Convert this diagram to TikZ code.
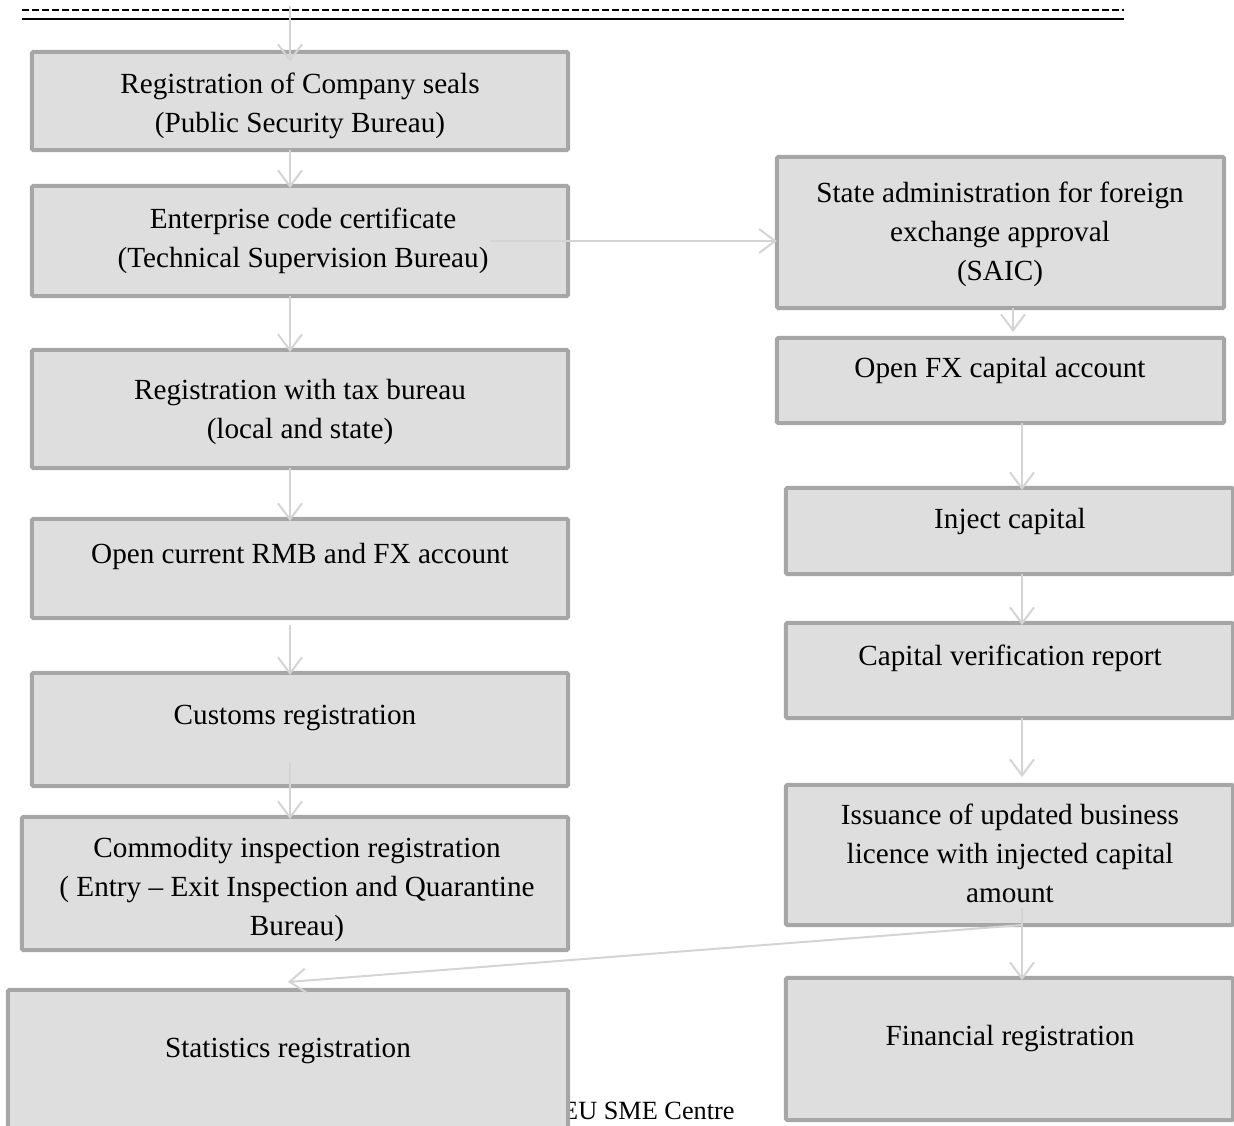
\documentclass[tikz,border=0pt]{standalone}
\usepackage{fontspec}
\setmainfont{Liberation Serif}
\usetikzlibrary{arrows.meta}
\definecolor{boxfill}{HTML}{DEDEDE}
\definecolor{boxline}{HTML}{A6A6A6}
\definecolor{arrowcol}{HTML}{D4D4D4}
\begin{document}
\begin{tikzpicture}[x=1pt,y=-1pt,
  stepbox/.style={draw=boxline,fill=boxfill,line width=4pt,rounded corners=1.5pt},
  label/.style={align=center,font=\fontsize{29.2}{39}\selectfont,inner sep=0pt,anchor=base},
  conn/.style={draw=arrowcol,line width=2pt,-{Straight Barb[length=16pt,width=24pt,line width=2pt]}}]
\useasboundingbox (0,0) rectangle (1234,1126);
% header lines
\draw[black,line width=2pt,dash pattern=on 7pt off 3pt] (22,10) -- (1124,10);
\draw[black,line width=2.5pt] (22,19) -- (1124,19);
% footer
\node[anchor=base west,font=\fontsize{26.3}{30}\selectfont,inner sep=0pt] (foot) at (562,1119) {EU SME Centre};
% boxes
\node[inner sep=0pt,minimum width=536pt,minimum height=98pt] (b1) at (300,101) {};
\node[inner sep=0pt,minimum width=536pt,minimum height=110pt] (b2) at (300,241) {};
\node[inner sep=0pt,minimum width=536pt,minimum height=118pt] (b3) at (300,409) {};
\node[inner sep=0pt,minimum width=536pt,minimum height=99pt] (b4) at (300,568.5) {};
\node[inner sep=0pt,minimum width=536pt,minimum height=113pt] (b5) at (300,729.5) {};
\node[inner sep=0pt,minimum width=546pt,minimum height=133pt] (b6) at (295,883.5) {};
\node[inner sep=0pt,minimum width=560pt,minimum height=140pt] (b7) at (288,1060) {};
\node[inner sep=0pt,minimum width=447pt,minimum height=151pt] (b8) at (1000.5,232.5) {};
\node[inner sep=0pt,minimum width=447pt,minimum height=85pt] (b9) at (1000.5,380.5) {};
\node[inner sep=0pt,minimum width=447pt,minimum height=86pt] (b10) at (1009.5,531) {};
\node[inner sep=0pt,minimum width=447pt,minimum height=95pt] (b11) at (1009.5,670.5) {};
\node[inner sep=0pt,minimum width=447pt,minimum height=140pt] (b12) at (1009.5,855) {};
\node[inner sep=0pt,minimum width=447pt,minimum height=142pt] (b13) at (1009.5,1049) {};
\foreach \b in {b1,b2,b3,b4,b5,b6,b7,b8,b9,b10,b11,b12,b13}{
  \path[stepbox] (\b.north west) rectangle (\b.south east);
}
% texts (anchor = baseline of last line)
\node[label] (t1) at (300,133) {Registration of Company seals\\(Public Security Bureau)};
\node[label] (t2) at (303,267) {Enterprise code certificate\\(Technical Supervision Bureau)};
\node[label] (t3) at (300,438) {Registration with tax bureau\\(local and state)};
\node[label] (t4) at (300,563) {Open current RMB and FX account};
\node[label] (t5) at (295,724) {Customs registration};
\node[label] (t6) at (297,935) {Commodity inspection registration\\( Entry -- Exit Inspection and Quarantine\\Bureau)};
\node[label] (t7) at (288,1057) {Statistics registration};
\node[label] (t8) at (1000,280) {State administration for foreign\\exchange approval\\(SAIC)};
\node[label] (t9) at (1000,377) {Open FX capital account};
\node[label] (t10) at (1010,528) {Inject capital};
\node[label] (t11) at (1010,665) {Capital verification report};
\node[label] (t12) at (1010,902) {Issuance of updated business\\licence with injected capital\\amount};
\node[label] (t13) at (1010,1045) {Financial registration};
% connectors
\coordinate (top) at (290,6);
\coordinate (topend) at (290,62);
\draw[conn] (top) -- (topend);
\draw[conn] (b1.south -| top) -- (290,188);
\draw[conn] (b2.south -| top) -- (290,352);
\draw[conn] (b3.south -| top) -- (290,521);
\draw[conn] (290,625) -- (290,675);
\draw[conn] (290,762) -- (290,819);
\draw[conn] (490,241) -- (b8.west |- 0,241);
\draw[conn] (1013,308) -- (1013,332);
\draw[conn] (1022,423) -- (1022,490);
\draw[conn] (1022,574) -- (1022,625);
\draw[conn] (1022,718) -- (1022,777);
\draw[conn] (1022,908) -- (1022,980);
\draw[conn] (1022,925) -- (288,982);
\end{tikzpicture}
\end{document}
